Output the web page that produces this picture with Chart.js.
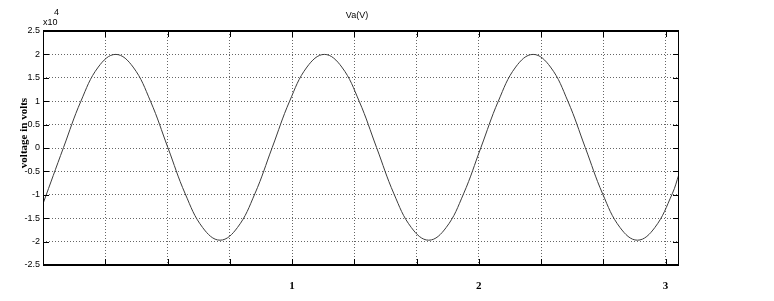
<!DOCTYPE html>
<html lang="en">
<head>
    <meta charset="UTF-8">
    <title>Va(V)</title>
    <script src="https://cdn.jsdelivr.net/npm/chart.js@4.4.0/dist/chart.umd.min.js"></script>
    <style>
        body {
            margin: 0;
            padding: 0;
            background-color: #ffffff;
        }
        .wrap {
            width: 774px;
            height: 301px;
        }
    </style>
</head>
<body>
    <div class="wrap">
        <canvas id="va-chart" width="774" height="301"></canvas>
    </div>

    <script>
        // values (voltage x10^4)
        const xValues = [-0.3333, -0.2235, -0.1304, -0.0373, 0.0558, 0.1490, 0.2421, 0.3352, 0.4283,
            0.5215, 0.6146, 0.7077, 0.8008, 0.8939, 0.9871, 1.0802, 1.1733, 1.2664, 1.3595, 1.4527,
            1.5458, 1.6389, 1.7320, 1.8252, 1.9183, 2.0114, 2.1045, 2.1976, 2.2908, 2.3839, 2.4770,
            2.5701, 2.6632, 2.7564, 2.8495, 2.9426, 3.0357, 3.0720];
        const yValues = [-1.19, 0.01, 1.00, 1.73, 2.00, 1.73, 1.00, 0.01, -0.98, -1.70, -1.97, -1.70,
            -0.98, 0.01, 1.00, 1.73, 2.00, 1.73, 1.00, 0.01, -0.98, -1.70, -1.97, -1.70, -0.98, 0.01,
            1.00, 1.73, 2.00, 1.73, 1.00, 0.01, -0.98, -1.70, -1.97, -1.70, -0.98, -0.56];

        const yTicks = [-2.5, -2, -1.5, -1, -0.5, 0, 0.5, 1, 1.5, 2, 2.5];
        const yTickLabels = ['-2.5', '-2', '-1.5', '-1', '-0.5', '0', '0.5', '1', '1.5', '2', '2.5'];
        const xTicks = [0, 1 / 3, 2 / 3, 1, 4 / 3, 5 / 3, 2, 7 / 3, 8 / 3, 3];
        const xTickLabels = ['', '', '', '1', '', '', '2', '', '', '3'];

        const points = xValues.map((x, i) => ({ x: x, y: yValues[i] }));

        // box, inward tick marks and the extra texts (matlab style)
        const matlabFrame = {
            id: 'matlabFrame',
            afterDraw(chart) {
                const ctx = chart.ctx;
                const a = chart.chartArea;
                const xs = chart.scales.x;
                const ys = chart.scales.y;
                ctx.save();
                ctx.strokeStyle = '#000';
                ctx.lineWidth = 1;
                ctx.beginPath();
                ctx.moveTo(a.left + 0.5, a.top);
                ctx.lineTo(a.left + 0.5, a.bottom);
                ctx.moveTo(a.right - 0.5, a.top);
                ctx.lineTo(a.right - 0.5, a.bottom);
                ctx.stroke();
                ctx.lineWidth = 2;
                ctx.beginPath();
                ctx.moveTo(a.left, a.top);
                ctx.lineTo(a.right, a.top);
                ctx.moveTo(a.left, a.bottom);
                ctx.lineTo(a.right, a.bottom);
                ctx.stroke();

                ctx.lineWidth = 1;
                ctx.beginPath();
                yTicks.forEach(v => {
                    const py = Math.round(ys.getPixelForValue(v)) + 0.5;
                    ctx.moveTo(a.left, py);
                    ctx.lineTo(a.left + 6, py);
                    ctx.moveTo(a.right, py);
                    ctx.lineTo(a.right - 6, py);
                });
                xTicks.forEach(v => {
                    const px = Math.round(xs.getPixelForValue(v)) + 0.5;
                    ctx.moveTo(px, a.bottom);
                    ctx.lineTo(px, a.bottom - 6);
                    ctx.moveTo(px, a.top);
                    ctx.lineTo(px, a.top + 6);
                });
                ctx.stroke();

                ctx.fillStyle = '#000';
                ctx.font = '9px "Liberation Sans Narrow", "Liberation Sans", Arial, sans-serif';
                ctx.textAlign = 'center';
                ctx.textBaseline = 'middle';
                ctx.fillText('Va(V)', (a.left + a.right) / 2 - 4, 16);
                ctx.textAlign = 'left';
                ctx.fillText('x10', a.left, 23);
                ctx.fillText('4', a.left + 11, 13);

                ctx.translate(24, 133);
                ctx.rotate(-Math.PI / 2);
                ctx.textAlign = 'center';
                ctx.font = 'bold 11px "Liberation Serif", "Times New Roman", serif';
                ctx.fillText('voltage in volts', 0, 0);
                ctx.restore();
            }
        };

        const vaChart = new Chart(
            document.getElementById('va-chart'),
            {
                type: 'line',
                data: {
                    datasets: [{
                        label: 'Va(V)',
                        data: points,
                        borderColor: '#3c3c3c',
                        borderWidth: 1,
                        pointRadius: 0,
                        tension: 0.4,
                        fill: false
                    }]
                },
                options: {
                    responsive: false,
                    animation: false,
                    layout: {
                        padding: { top: 31, right: 95, left: 0, bottom: 0 }
                    },
                    plugins: {
                        legend: { display: false },
                        tooltip: { enabled: false }
                    },
                    scales: {
                        x: {
                            type: 'linear',
                            min: -1 / 3,
                            max: 3.072,
                            afterBuildTicks: scale => {
                                scale.ticks = xTicks.map(v => ({ value: v }));
                            },
                            afterFit: scale => {
                                scale.height = 36;
                            },
                            grid: {
                                color: 'rgba(0, 0, 0, 0.6)',
                                drawTicks: false
                            },
                            border: {
                                display: false,
                                dash: [1, 2]
                            },
                            ticks: {
                                padding: 15,
                                color: '#000',
                                maxRotation: 0,
                                autoSkip: false,
                                font: { family: '"Liberation Serif", "Times New Roman", serif', size: 11, weight: 'bold' },
                                callback: (value, index) => xTickLabels[index]
                            }
                        },
                        y: {
                            min: -2.5,
                            max: 2.5,
                            afterBuildTicks: scale => {
                                scale.ticks = yTicks.map(v => ({ value: v }));
                            },
                            afterFit: scale => {
                                scale.width = 43;
                            },
                            grid: {
                                color: 'rgba(0, 0, 0, 0.6)',
                                drawTicks: false
                            },
                            border: {
                                display: false,
                                dash: [1, 2]
                            },
                            ticks: {
                                padding: 3,
                                color: '#000',
                                autoSkip: false,
                                font: { family: '"Liberation Sans Narrow", "Liberation Sans", Arial, sans-serif', size: 9 },
                                callback: (value, index) => yTickLabels[index]
                            }
                        }
                    }
                },
                plugins: [matlabFrame]
            }
        );
    </script>
</body>
</html>
